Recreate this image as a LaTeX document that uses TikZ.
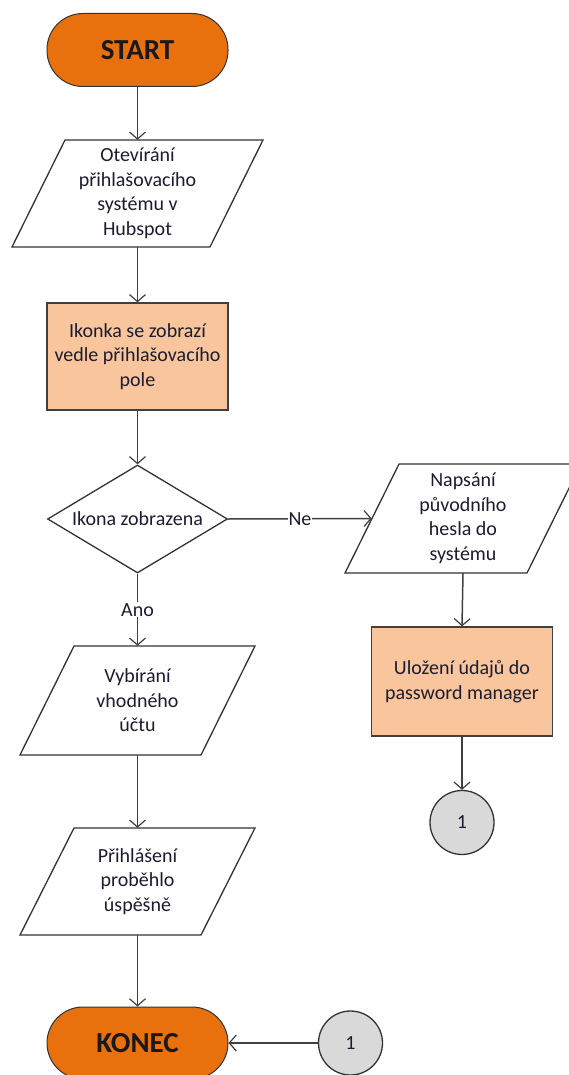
\documentclass[tikz,border=0pt]{standalone}
\usepackage{fontspec}
\setmainfont{Carlito}
\usetikzlibrary{shapes.geometric,arrows.meta}
\definecolor{termfill}{RGB}{232,113,14}
\definecolor{procfill}{RGB}{248,197,156}
\definecolor{connfill}{RGB}{217,217,217}
\definecolor{edgecol}{RGB}{64,64,64}
\definecolor{txtcol}{RGB}{28,28,48}
\tikzset{
  base/.style={font=\fontsize{20}{24.5}\selectfont, text=txtcol, align=center, inner sep=0pt},
  terminal/.style={base, draw=black!80, line width=1pt, fill=termfill, rectangle, rounded corners=36pt,
    minimum width=181pt, minimum height=73pt, font=\fontsize{29}{30}\selectfont\bfseries, text=black!90},
  procbox/.style={base, draw=black!75, line width=1.3pt, fill=procfill, rectangle, minimum width=181pt, minimum height=107pt},
  paraanchor/.style={base, rectangle, minimum height=107pt},
  decision/.style={base, draw=black!80, line width=1.3pt, fill=white, diamond, aspect=1.667, minimum width=180pt, minimum height=108pt},
  connector/.style={base, draw=black!80, line width=1.3pt, fill=connfill, circle, minimum size=64pt},
  flow/.style={draw=edgecol, line width=1.5pt, -{Straight Barb[length=7pt,width=16pt,line width=1.2pt]}},
  paraline/.style={draw=black!80, line width=1.3pt, fill=white},
  edgelabel/.style={base, fill=white, inner sep=1pt},
}
\begin{document}
\begin{tikzpicture}[x=1pt,y=-1pt]
\useasboundingbox (0,0) rectangle (568,1075);
% paralellogram outlines (drawn first)
\draw[paraline] (65,140) -- (263,140) -- (210,247) -- (12,247) -- cycle;
\draw[paraline] (399,464) -- (581,464) -- (527,573) -- (345,573) -- cycle;
\draw[paraline] (74,646) -- (255,646) -- (201,755) -- (20,755) -- cycle;
\draw[paraline] (74,828) -- (255,828) -- (201,935) -- (20,935) -- cycle;

\node[terminal] (start) at (137.5,50) {START};
\node[paraanchor, minimum width=198pt] (p1) at (137.5,193.5) {Otevírání\\přihlašovacího\\systému v\\Hubspot};
\node[procbox] (r1) at (137.5,356.5) {Ikonka se zobrazí\\vedle přihlašovacího\\pole};
\node[decision] (d) at (137.5,519) {Ikona zobrazena};
\node[paraanchor, minimum width=182pt, minimum height=109pt] (p2) at (463,518.5) {Napsání\\původního\\hesla do\\systému};
\node[procbox, minimum height=109pt] (r2) at (462,681.5) {Uložení údajů do\\password manager};
\node[connector] (c1) at (462,822.5) {1};
\node[paraanchor, minimum width=181pt, minimum height=109pt] (p3) at (137.5,700.5) {Vybírání\\vhodného\\účtu};
\node[paraanchor, minimum width=181pt] (p4) at (137.5,881.5) {Přihlášení\\proběhlo\\úspěšně};
\node[terminal, minimum height=72pt] (konec) at (137.5,1043) {KONEC};
\node[connector] (c2) at (350.5,1043) {1};

\draw[flow] (start.south) -- (p1.north);
\draw[flow] (p1.south) -- (r1.north);
\draw[flow] (r1.south) -- (d.north);
\draw[flow] (d.east) -- node[edgelabel, pos=0.5] {Ne} (p2.west);
\draw[flow] (d.south) -- node[edgelabel, pos=0.5] {Ano} (p3.north);
\draw[flow] (p3.south) -- (p4.north);
\draw[flow] (p4.south) -- (konec.north);
\draw[flow] (p2.south) -- (r2.north);
\draw[flow] (r2.south) -- (c1.north);
\draw[flow] (c2.west) -- (konec.east);
\end{tikzpicture}
\end{document}
